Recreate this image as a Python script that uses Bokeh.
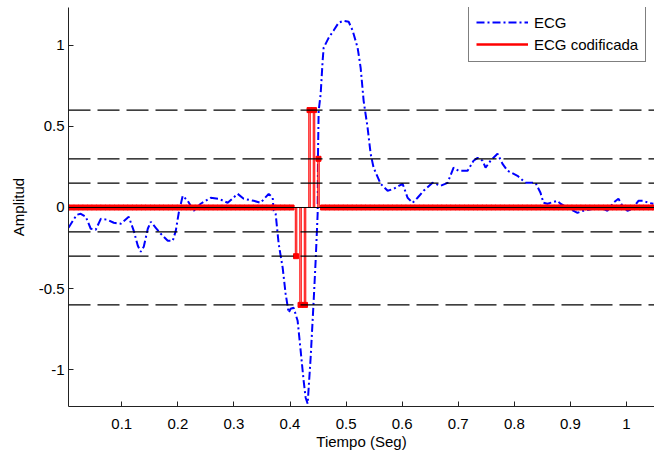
import numpy as np
from bokeh.plotting import figure
from bokeh.models import Span, Legend, LegendItem, FixedTicker, Range1d
from bokeh.embed import file_html
from bokeh.resources import INLINE

# ---- ECG signal (time in s, amplitude) ----
ecg_t = [0.005, 0.0127, 0.0198, 0.0269, 0.0358, 0.0447, 0.0536, 0.0626, 0.075, 0.0857,
         0.0982, 0.1125, 0.1214, 0.1286, 0.1339, 0.1392, 0.1464, 0.1517, 0.1606, 0.1695,
         0.182, 0.1909, 0.1963, 0.2016, 0.2087, 0.2176, 0.2283, 0.2408, 0.2586, 0.2729,
         0.2889, 0.3067, 0.3174, 0.3353, 0.3477, 0.362, 0.3691, 0.3709, 0.3744, 0.3798,
         0.3869, 0.3922, 0.3976, 0.4011, 0.4065, 0.4136, 0.419, 0.4243, 0.4279, 0.4315,
         0.4333, 0.4368, 0.4422, 0.4457, 0.4493, 0.4500, 0.4511, 0.4547, 0.4582, 0.46,
         0.4689, 0.4778, 0.4867, 0.4956, 0.5046, 0.5117, 0.5206, 0.526, 0.5313, 0.5384,
         0.5438, 0.5491, 0.5616, 0.5741, 0.5848, 0.6008, 0.6097, 0.6186, 0.6275, 0.6382,
         0.6542, 0.6685, 0.681, 0.6917, 0.7006, 0.7167, 0.7273, 0.7345, 0.7434, 0.7487,
         0.7576, 0.7701, 0.779, 0.7879, 0.8057, 0.8199, 0.8377, 0.8467, 0.852, 0.8591,
         0.8769, 0.8823, 0.9126, 0.9233, 0.9411, 0.9589, 0.9661, 0.9768, 0.9857, 0.9928,
         1.0017, 1.0106, 1.0213, 1.0302, 1.0391, 1.048]
ecg_v = [-0.125, -0.082, -0.045, -0.039, -0.057, -0.131, -0.137, -0.070, -0.076, -0.094,
         -0.100, -0.057, -0.144, -0.236, -0.273, -0.242, -0.131, -0.088, -0.125, -0.162,
         -0.205, -0.205, -0.144, -0.033, 0.072, 0.041, -0.020, 0.023, 0.060, 0.054,
         0.029, 0.084, 0.054, 0.041, 0.029, 0.084, 0.060, -0.020, -0.039, -0.224,
         -0.371, -0.531, -0.648, -0.624, -0.618, -0.698, -0.882, -1.067, -1.172, -1.209,
         -1.110, -0.926, -0.575, -0.329, -0.039, 0.349, 0.595, 0.700, 0.904, 0.984,
         1.045, 1.090, 1.138, 1.150, 1.144, 1.090, 0.984, 0.860, 0.657, 0.491,
         0.331, 0.245, 0.146, 0.103, 0.115, 0.146, 0.060, 0.029, 0.060, 0.103,
         0.152, 0.134, 0.152, 0.245, 0.226, 0.226, 0.288, 0.306, 0.288, 0.245,
         0.288, 0.331, 0.269, 0.226, 0.195, 0.152, 0.152, 0.091, 0.029, 0.023,
         0.041, 0.023, -0.033, -0.020, -0.008, -0.008, -0.020, 0.029, 0.054, 0.010,
         -0.020, -0.008, 0.041, 0.041, 0.029, 0.023]

# ---- coded ECG (quantised samples) ----
code_start = 0.0028
code_step = 0.008
code_count = 132
code_nonzero = {51: -0.3, 52: -0.6, 53: -0.6, 54: 0.6, 55: 0.6, 56: 0.3}
code_t = [round(code_start + k * code_step, 4) for k in range(code_count)]
code_v = [code_nonzero.get(k, 0.0) for k in range(code_count)]
code_base = [0.0] * code_count

# ---- quantisation thresholds ----
levels = [0.6, 0.3, 0.15, -0.15, -0.3, -0.6]
baseline = 0.0

x_ticks = [0.1, 0.2, 0.3, 0.4, 0.5, 0.6, 0.7, 0.8, 0.9, 1.0]
x_tick_labels = ["0.1", "0.2", "0.3", "0.4", "0.5", "0.6", "0.7", "0.8", "0.9", "1"]
y_ticks = [-1.0, -0.5, 0.0, 0.5, 1.0]
y_tick_labels = ["-1", "-0.5", "0", "0.5", "1"]

FONT = "Liberation Sans"

p = figure(width=654, height=455, output_backend="svg", toolbar_location=None,
           x_range=Range1d(0.005, 1.05), y_range=Range1d(-1.226, 1.232),
           min_border_left=68, min_border_right=0, min_border_top=7, min_border_bottom=49)
p.outline_line_color = None
p.xgrid.visible = False
p.ygrid.visible = False
p.background_fill_color = "white"

for ax in (p.xaxis[0], p.yaxis[0]):
    ax.major_tick_in = 5
    ax.major_tick_out = 0
    ax.minor_tick_line_color = None
    ax.axis_line_color = "#222222"
    ax.major_tick_line_color = "#222222"
    ax.major_label_text_font = FONT
    ax.major_label_text_font_size = "15px"
    ax.major_label_text_color = "black"
    ax.axis_label_text_font = FONT
    ax.axis_label_text_font_size = "15px"
    ax.axis_label_text_font_style = "normal"
    ax.axis_label_text_color = "black"

p.xaxis.ticker = FixedTicker(ticks=x_ticks)
p.xaxis.major_label_overrides = dict(zip(x_ticks, x_tick_labels))
p.yaxis.ticker = FixedTicker(ticks=y_ticks)
p.yaxis.major_label_overrides = dict(zip(y_ticks, y_tick_labels))
p.xaxis.axis_label = "Tiempo (Seg)"
p.yaxis.axis_label = "Amplitud"
p.xaxis.major_label_standoff = 12
p.xaxis.axis_label_standoff = 1
p.yaxis.major_label_standoff = 4
p.yaxis.axis_label_standoff = 9

ecg_r = p.line(ecg_t, ecg_v, line_color="blue", line_width=2, line_dash="8 3 2 3")

stem_r = p.segment(x0=code_t, y0=code_base, x1=code_t, y1=code_v,
                   line_color="red", line_width=2.5)
p.segment(x0=code_t, y0=code_base, x1=code_t, y1=code_v,
          line_color="white", line_width=0.8, line_alpha=0.5)
p.scatter(code_t, code_v, marker="square", size=5, line_color="red",
          line_width=1, fill_color="red")

for lv in levels:
    p.add_layout(Span(location=lv, dimension="width", line_color="black",
                      line_width=1.3, line_dash="22 7"))
p.add_layout(Span(location=baseline, dimension="width", line_color="black", line_width=1))

legend = Legend(items=[LegendItem(label="ECG", renderers=[ecg_r]),
                       LegendItem(label="ECG codificada", renderers=[stem_r])],
                location=(400, 344), orientation="vertical")
legend.label_text_font = FONT
legend.label_text_font_size = "15px"
legend.label_text_color = "black"
legend.glyph_width = 52
legend.glyph_height = 20
legend.label_height = 20
legend.spacing = 2
legend.padding = 7
legend.margin = 0
legend.label_standoff = 6
legend.border_line_color = "black"
legend.border_line_width = 1
legend.background_fill_alpha = 1
p.add_layout(legend)

open("out.html", "w").write(file_html(p, INLINE))
